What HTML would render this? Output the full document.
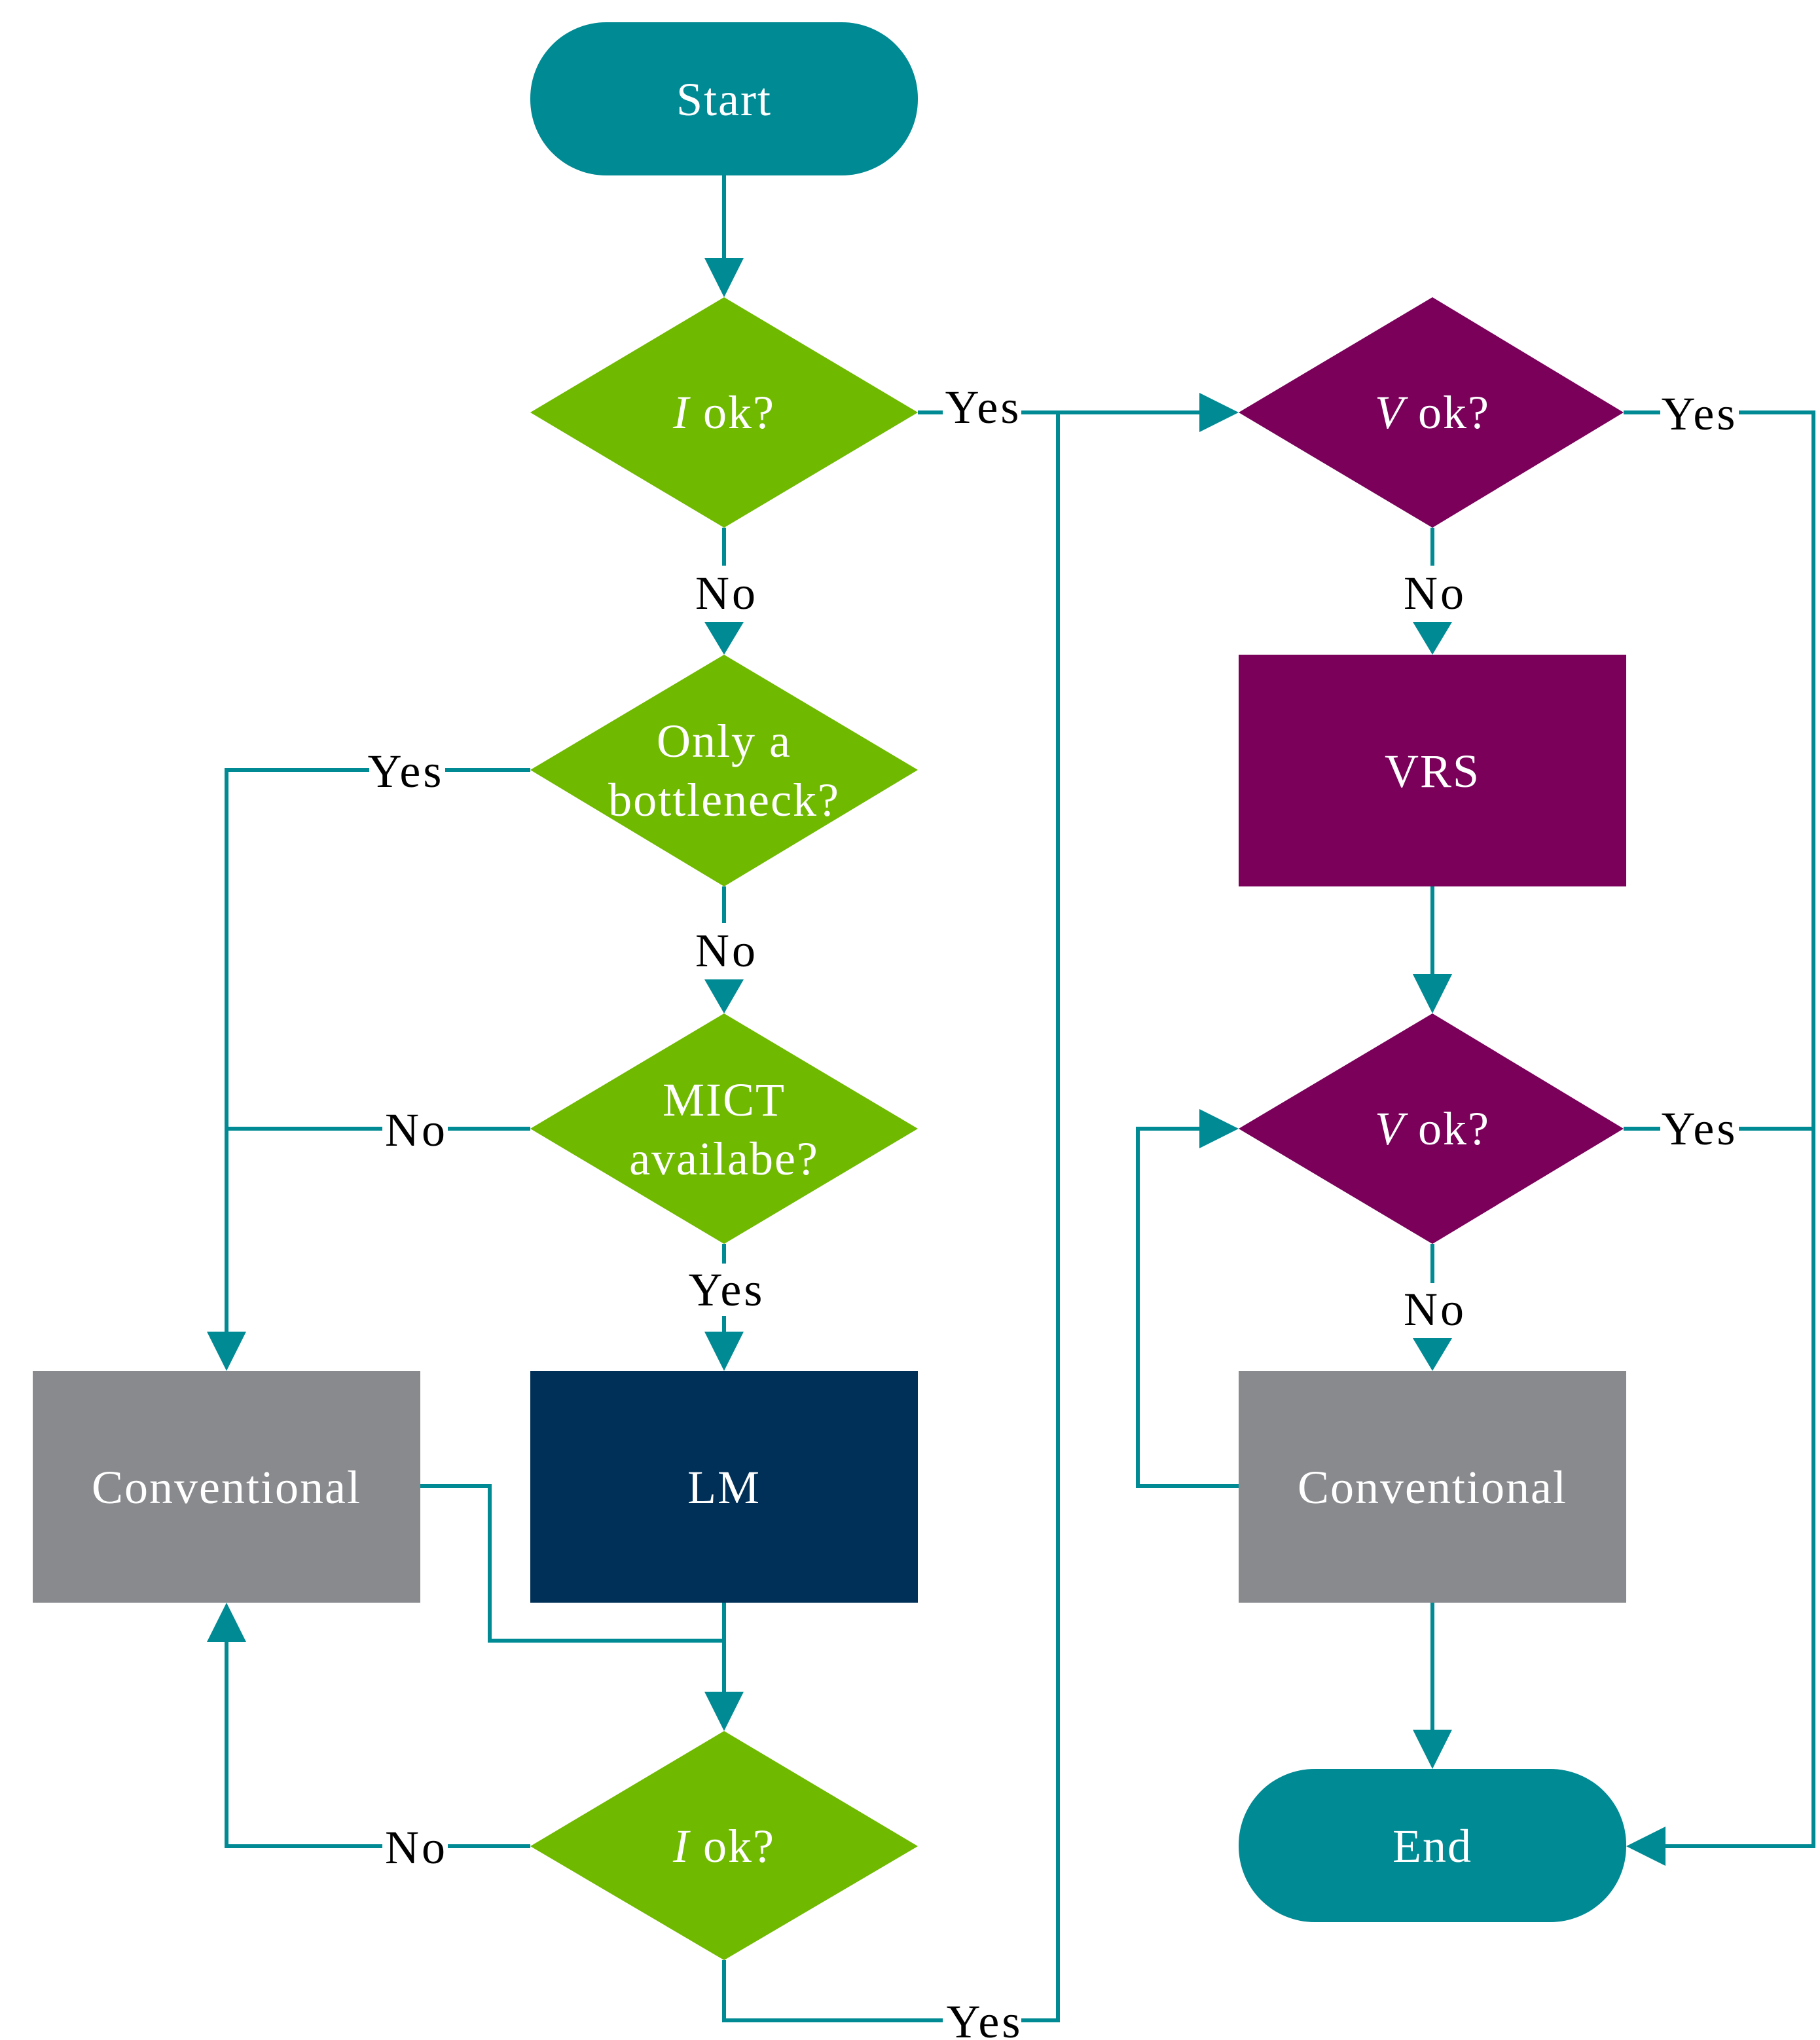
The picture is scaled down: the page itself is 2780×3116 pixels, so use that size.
<!DOCTYPE html>
<html><head><meta charset="utf-8"><style>html,body{margin:0;padding:0;background:#fff}svg{display:block}</style></head>
<body>
<svg width="2780" height="3116" viewBox="0 0 1390 1558" xmlns="http://www.w3.org/2000/svg" font-family="Liberation Serif, serif" font-size="36">
<g fill="none" stroke="#008a94" stroke-width="3">
<line x1="553" y1="134" x2="553" y2="200"/>
<polyline points="701,315 720,315"/>
<polyline points="780,315 918,315"/>
<polyline points="808,315 808,1543 780,1543"/>
<polyline points="720,1543 553,1543 553,1497"/>
<line x1="553" y1="403" x2="553" y2="432"/>
<line x1="553" y1="475" x2="553" y2="478"/>
<line x1="553" y1="677" x2="553" y2="705"/>
<line x1="553" y1="748" x2="553" y2="752"/>
<polyline points="405,588 340,588"/>
<polyline points="282,588 173,588 173,1020"/>
<polyline points="405,862 342,862"/>
<polyline points="292,862 173,862"/>
<line x1="553" y1="950" x2="553" y2="965"/>
<line x1="553" y1="1005" x2="553" y2="1022"/>
<polyline points="321,1135 374,1135 374,1253 553,1253"/>
<line x1="553" y1="1224" x2="553" y2="1295"/>
<polyline points="405,1410 342,1410"/>
<polyline points="292,1410 173,1410 173,1250"/>
<polyline points="1240,315 1268,315"/>
<polyline points="1328,315 1385,315 1385,1410 1270,1410"/>
<line x1="1094" y1="403" x2="1094" y2="432"/>
<line x1="1094" y1="475" x2="1094" y2="478"/>
<line x1="1094" y1="677" x2="1094" y2="748"/>
<polyline points="1240,862 1268,862"/>
<polyline points="1328,862 1385,862"/>
<line x1="1094" y1="950" x2="1094" y2="980"/>
<line x1="1094" y1="1022" x2="1094" y2="1025"/>
<polyline points="946,1135 869,1135 869,862 918,862"/>
<line x1="1094" y1="1224" x2="1094" y2="1325"/>
</g>
<g fill="#008a94">
<polygon points="538,197 568,197 553,227"/>
<polygon points="538,475 568,475 553,500"/>
<polygon points="538,748 568,748 553,774"/>
<polygon points="158,1017 188,1017 173,1047"/>
<polygon points="538,1017 568,1017 553,1047"/>
<polygon points="538,1292 568,1292 553,1322"/>
<polygon points="158,1254 188,1254 173,1224"/>
<polygon points="916,300 916,330 946,315"/>
<polygon points="916,847 916,877 946,862"/>
<polygon points="1079,475 1109,475 1094,500"/>
<polygon points="1079,744 1109,744 1094,774"/>
<polygon points="1079,1022 1109,1022 1094,1047"/>
<polygon points="1079,1321 1109,1321 1094,1351"/>
<polygon points="1272,1395 1272,1425 1242,1410"/>
</g>
<rect x="405" y="17" width="296" height="117" rx="58" fill="#008a94"/>
<rect x="946" y="1351" width="296" height="117" rx="58" fill="#008a94"/>
<g fill="#6fb900">
<polygon points="405,315 553,227 701,315 553,403"/>
<polygon points="405,588 553,500 701,588 553,677"/>
<polygon points="405,862 553,774 701,862 553,950"/>
<polygon points="405,1410 553,1322 701,1410 553,1497"/>
</g>
<g fill="#7a0059">
<polygon points="946,315 1094,227 1240,315 1094,403"/>
<polygon points="946,862 1094,774 1240,862 1094,950"/>
<rect x="946" y="500" width="296" height="177"/>
</g>
<rect x="405" y="1047" width="296" height="177" fill="#003057"/>
<rect x="25" y="1047" width="296" height="177" fill="#898a8e"/>
<rect x="946" y="1047" width="296" height="177" fill="#898a8e"/>
<g fill="#fff" text-anchor="middle" letter-spacing="1">
<text x="553" y="88">Start</text>
<text x="553" y="327"><tspan font-style="italic">I</tspan> ok?</text>
<text x="553" y="578">Only a</text>
<text x="553" y="623">bottleneck?</text>
<text x="553" y="852">MICT</text>
<text x="553" y="897">availabe?</text>
<text x="553" y="1148">LM</text>
<text x="173" y="1148">Conventional</text>
<text x="553" y="1422"><tspan font-style="italic">I</tspan> ok?</text>
<text x="1094" y="327"><tspan font-style="italic">V</tspan> ok?</text>
<text x="1094" y="601">VRS</text>
<text x="1094" y="874"><tspan font-style="italic">V</tspan> ok?</text>
<text x="1094" y="1148">Conventional</text>
<text x="1094" y="1422">End</text>
</g>
<g fill="#000" text-anchor="middle" letter-spacing="2">
<text x="751" y="323">Yes</text>
<text x="555" y="465">No</text>
<text x="555" y="738">No</text>
<text x="310" y="601">Yes</text>
<text x="318" y="875">No</text>
<text x="555" y="997">Yes</text>
<text x="318" y="1423">No</text>
<text x="752" y="1556">Yes</text>
<text x="1298" y="328">Yes</text>
<text x="1096" y="465">No</text>
<text x="1298" y="874">Yes</text>
<text x="1096" y="1012">No</text>
</g>
</svg>
</body></html>
